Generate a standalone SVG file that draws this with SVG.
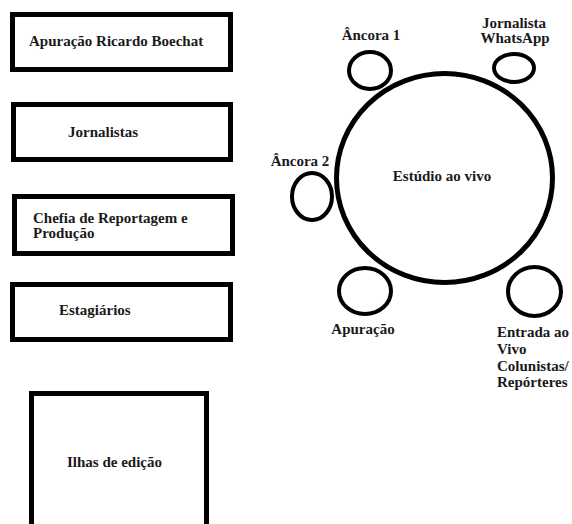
<svg xmlns="http://www.w3.org/2000/svg" width="572" height="524" viewBox="0 0 572 524">
<rect width="572" height="524" fill="#fff"/>
<g id="apuracao-boechat">
<rect x="12.5" y="14.5" width="218" height="55" fill="none" stroke="#000" stroke-width="5"/>
<text x="29" y="46" font-family="'Liberation Serif', serif" font-weight="bold" font-size="15" fill="#1a1a1a">Apuração Ricardo Boechat</text>
</g>
<g id="jornalistas">
<rect x="13.5" y="104.5" width="217" height="55" fill="none" stroke="#000" stroke-width="5"/>
<text x="68" y="137" font-family="'Liberation Serif', serif" font-weight="bold" font-size="15" fill="#1a1a1a">Jornalistas</text>
</g>
<g id="chefia">
<rect x="14.5" y="196.5" width="218" height="57" fill="none" stroke="#000" stroke-width="5"/>
<text x="33" y="223" font-family="'Liberation Serif', serif" font-weight="bold" font-size="15" fill="#1a1a1a">Chefia de Reportagem e</text>
<text x="33" y="238" font-family="'Liberation Serif', serif" font-weight="bold" font-size="15" fill="#1a1a1a">Produção</text>
</g>
<g id="estagiarios">
<rect x="12.5" y="284.5" width="218" height="55" fill="none" stroke="#000" stroke-width="5"/>
<text x="59" y="315" font-family="'Liberation Serif', serif" font-weight="bold" font-size="15" fill="#1a1a1a">Estagiários</text>
</g>
<g id="ilhas">
<rect x="31.5" y="393.5" width="175" height="150" fill="none" stroke="#000" stroke-width="5"/>
<text x="67" y="467" font-family="'Liberation Serif', serif" font-weight="bold" font-size="15" fill="#1a1a1a">Ilhas de edição</text>
</g>
<g id="estudio">
<ellipse cx="444.5" cy="178" rx="108" ry="104.5" fill="none" stroke="#000" stroke-width="5"/>
<text x="442" y="181" text-anchor="middle" font-family="'Liberation Serif', serif" font-weight="bold" font-size="15" fill="#1a1a1a">Estúdio ao vivo</text>
</g>
<g id="ancora1">
<ellipse cx="370" cy="70.5" rx="21" ry="18.5" fill="none" stroke="#000" stroke-width="4"/>
<text x="371" y="40" text-anchor="middle" font-family="'Liberation Serif', serif" font-weight="bold" font-size="15" fill="#1a1a1a">Âncora 1</text>
</g>
<g id="jornalista-whatsapp">
<ellipse cx="514" cy="68" rx="20" ry="14" fill="none" stroke="#000" stroke-width="4"/>
<text x="514" y="28" text-anchor="middle" font-family="'Liberation Serif', serif" font-weight="bold" font-size="15" fill="#1a1a1a">Jornalista</text>
<text x="515" y="43" text-anchor="middle" font-family="'Liberation Serif', serif" font-weight="bold" font-size="15" fill="#1a1a1a">WhatsApp</text>
</g>
<g id="ancora2">
<ellipse cx="312" cy="196.5" rx="20" ry="23.5" fill="none" stroke="#000" stroke-width="4"/>
<text x="300" y="166" text-anchor="middle" font-family="'Liberation Serif', serif" font-weight="bold" font-size="15" fill="#1a1a1a">Âncora 2</text>
</g>
<g id="apuracao">
<ellipse cx="365" cy="291" rx="26" ry="23" fill="none" stroke="#000" stroke-width="4"/>
<text x="363" y="334" text-anchor="middle" font-family="'Liberation Serif', serif" font-weight="bold" font-size="15" fill="#1a1a1a">Apuração</text>
</g>
<g id="entrada">
<ellipse cx="534.5" cy="291.5" rx="26.5" ry="24.5" fill="none" stroke="#000" stroke-width="4"/>
<text x="497" y="337" font-family="'Liberation Serif', serif" font-weight="bold" font-size="15" fill="#1a1a1a">Entrada ao</text>
<text x="497" y="354" font-family="'Liberation Serif', serif" font-weight="bold" font-size="15" fill="#1a1a1a">Vivo</text>
<text x="497" y="371" font-family="'Liberation Serif', serif" font-weight="bold" font-size="15" fill="#1a1a1a">Colunistas/</text>
<text x="497" y="387" font-family="'Liberation Serif', serif" font-weight="bold" font-size="15" fill="#1a1a1a">Repórteres</text>
</g>
<g id="connectors"/>
</svg>
